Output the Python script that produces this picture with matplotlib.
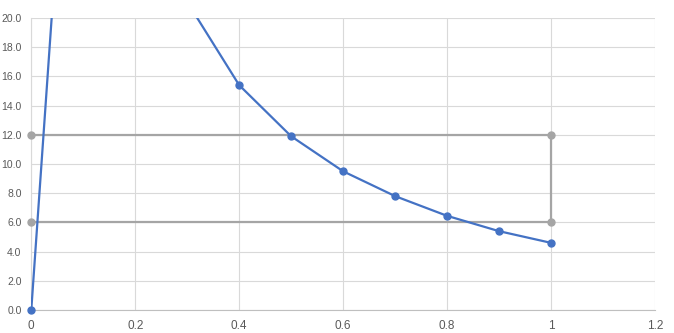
"""Recreate the Excel-style scatter chart with a box overlay."""

import matplotlib

matplotlib.use("Agg")
import matplotlib.pyplot as plt  # noqa: E402
import numpy as np  # noqa: E402

CURVE_X = [0.0, 0.1, 0.2, 0.3, 0.4, 0.5, 0.6, 0.7, 0.8, 0.9, 1.0]
CURVE_Y = [0.0, 51.0, 32.0, 21.1, 15.4, 11.9, 9.5, 7.8, 6.45, 5.4, 4.6]
BOX_X = [0.0, 1.0, 1.0, 0.0]
BOX_Y = [12.0, 12.0, 6.0, 6.0]
X_TICKS = [0, 0.2, 0.4, 0.6, 0.8, 1.0, 1.2]
X_LABELS = ["0", "0.2", "0.4", "0.6", "0.8", "1", "1.2"]
Y_TICKS = [0, 2, 4, 6, 8, 10, 12, 14, 16, 18, 20]

BLUE = "#4472C4"
GREY = "#A5A5A5"
GRID = "#D9D9D9"
TEXT = "#595959"

plt.rcParams["font.family"] = ["Liberation Sans", "DejaVu Sans"]

fig = plt.figure(figsize=(6.74, 3.33), dpi=100)
ax = fig.add_axes([0.0464, 0.069, 0.9254, 0.877])

ax.plot(BOX_X, BOX_Y, color=GREY, linewidth=1.6, zorder=3)
ax.plot(CURVE_X, CURVE_Y, color=BLUE, linewidth=1.6, zorder=4)

# markers drawn unclipped so the ones on the axis edge stay whole
ax.plot(BOX_X, BOX_Y, "o", color=GREY, markersize=5, clip_on=False, zorder=5)
cx = np.array(CURVE_X)
cy = np.array(CURVE_Y)
keep = cy <= 20
ax.plot(cx[keep], cy[keep], "o", color=BLUE, markersize=5, clip_on=False, zorder=6)

ax.set_xlim(0, 1.2)
ax.set_ylim(0, 20)
ax.set_xticks(X_TICKS)
ax.set_xticklabels(X_LABELS)
ax.set_yticks(Y_TICKS)
ax.set_yticklabels([f"{v:.1f}" for v in Y_TICKS])
ax.grid(True, color=GRID, linewidth=0.8)
ax.set_axisbelow(True)
for side in ("top", "right"):
    ax.spines[side].set_visible(False)
ax.spines["left"].set_color(GRID)
ax.spines["bottom"].set_color("#BFBFBF")
ax.spines["left"].set_linewidth(0.8)
ax.spines["bottom"].set_linewidth(0.8)
ax.tick_params(length=0, colors=TEXT)
ax.tick_params(axis="y", pad=7, labelsize=7.5)
ax.tick_params(axis="x", pad=7, labelsize=8.5)

fig.savefig("out.png", dpi=100)
